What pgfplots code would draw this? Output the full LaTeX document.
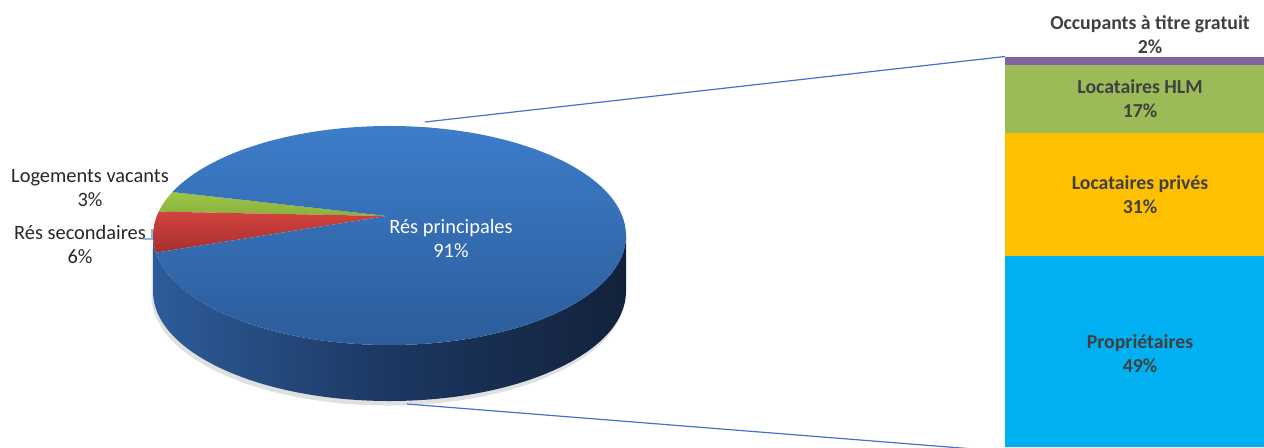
\documentclass[border=0pt]{standalone}
\usepackage{pgfplots}
\pgfplotsset{compat=1.18}
\usepackage{fontspec}
\setmainfont{Carlito}
\definecolor{pblueT}{HTML}{3D7ECB}
\definecolor{pblueB}{HTML}{2C5B99}
\definecolor{predT}{HTML}{D3433D}
\definecolor{predB}{HTML}{A5302D}
\definecolor{pgreenT}{HTML}{9CC646}
\definecolor{pgreenB}{HTML}{7C9F37}
\definecolor{sideL}{HTML}{2D5C9A}
\definecolor{sideM}{HTML}{1C3761}
\definecolor{sideR}{HTML}{13223B}
\definecolor{bpurple}{HTML}{8064A2}
\definecolor{bgreen}{HTML}{9BBB59}
\definecolor{borange}{HTML}{FFC000}
\definecolor{bcyan}{HTML}{00B0F0}
\definecolor{lab}{HTML}{404040}
\definecolor{pielab}{HTML}{262626}
\definecolor{conn}{HTML}{4472C4}
\definecolor{leader}{HTML}{8EB4E3}
\begin{document}
\begin{tikzpicture}
% ---------------- pie (pixel-like coordinates, y up) ----------------
\begin{axis}[x=0.5pt,y=0.5pt,xmin=0,xmax=1264,ymin=0,ymax=447,
  hide axis,at={(0,0)},anchor=south west,clip=true]
% soft shadow
\fill[black!12] (axis cs:388,209) ++(180:118.25pt and 54.75pt)
  arc[start angle=180,end angle=360,x radius=118.25pt,y radius=54.75pt]
  -- ++(0pt,-29pt)
  arc[start angle=360,end angle=180,x radius=118.25pt,y radius=54.75pt] -- cycle;
% side of the pie
\shade[left color=sideL,right color=sideR,middle color=sideM]
  (axis cs:389.5,211.5) ++(180:118.25pt and 54.75pt)
  arc[start angle=180,end angle=360,x radius=118.25pt,y radius=54.75pt]
  -- ++(0pt,-28pt)
  arc[start angle=360,end angle=180,x radius=118.25pt,y radius=54.75pt] -- cycle;
% slices: Logements vacants 3, Res secondaires 6, Res principales 91
\xdef\curang{156.6}
\foreach \v/\ct/\cb in {3/pgreenT/pgreenB,6/predT/predB,91/pblueT/pblueB}{
  \pgfmathsetmacro{\endang}{\curang+3.6*\v}
  \edef\temp{\noexpand\shade[top color=\ct,bottom color=\cb]
    (axis cs:389.5,211.5) ++(\curang:118.25pt and 54.75pt)
    arc[start angle=\curang,end angle=\endang,x radius=118.25pt,y radius=54.75pt]
    -- (axis cs:387,231) -- cycle;}
  \temp
  \xdef\curang{\endang}
}
% labels
\node[text=white,align=center,font=\fontsize{10.2}{12}\selectfont]
  at (axis cs:451,209) {Rés principales\\91\%};
\node[text=pielab,align=center,font=\fontsize{10.2}{12}\selectfont]
  at (axis cs:90,259) {Logements vacants\\3\%};
\node[text=pielab,align=center,font=\fontsize{10.2}{12}\selectfont]
  at (axis cs:80,203) {Rés secondaires\\6\%};
\draw[leader,line width=0.7pt] (axis cs:143,208) -- (axis cs:152,208) -- (axis cs:152,218);
% connector lines
\draw[conn,line width=0.6pt] (axis cs:425,325) -- (axis cs:1005,390.5);
\draw[conn,line width=0.6pt] (axis cs:407,43) -- (axis cs:1005,-4.5);
\end{axis}
% ---------------- stacked bar (percent) ----------------
\begin{axis}[x=0.5pt,y=1.9925pt,xmin=0,xmax=1264,ymin=1.13,ymax=113.3,
  hide axis,at={(0,0)},anchor=south west,clip=true,
  ybar stacked,bar width=270]
\addplot[fill=bcyan,draw=none] coordinates {(1140,49)};
\addplot[fill=borange,draw=none] coordinates {(1140,31)};
\addplot[fill=bgreen,draw=none] coordinates {(1140,17)};
\addplot[fill=bpurple,draw=none] coordinates {(1140,2)};
\end{axis}
% ---------------- bar labels (same percent frame) ----------------
\begin{axis}[x=0.5pt,y=1.9925pt,xmin=0,xmax=1264,ymin=1.13,ymax=113.3,
  hide axis,at={(0,0)},anchor=south west,clip=false]
\node[text=lab,align=center,font=\fontsize{9.9}{12}\bfseries] at (axis cs:1140,24.5) {Propriétaires\\49\%};
\node[text=lab,align=center,font=\fontsize{9.9}{12}\bfseries] at (axis cs:1140,64.5) {Locataires privés\\31\%};
\node[text=lab,align=center,font=\fontsize{9.9}{12}\bfseries] at (axis cs:1140,88.5) {Locataires HLM\\17\%};
\node[text=lab,align=center,font=\fontsize{9.9}{12}\bfseries] at (axis cs:1150,104.7) {Occupants à titre gratuit\\2\%};
\end{axis}
\pgfresetboundingbox
\path[use as bounding box] (0,0) rectangle (632pt,223.5pt);
\end{tikzpicture}
\end{document}
